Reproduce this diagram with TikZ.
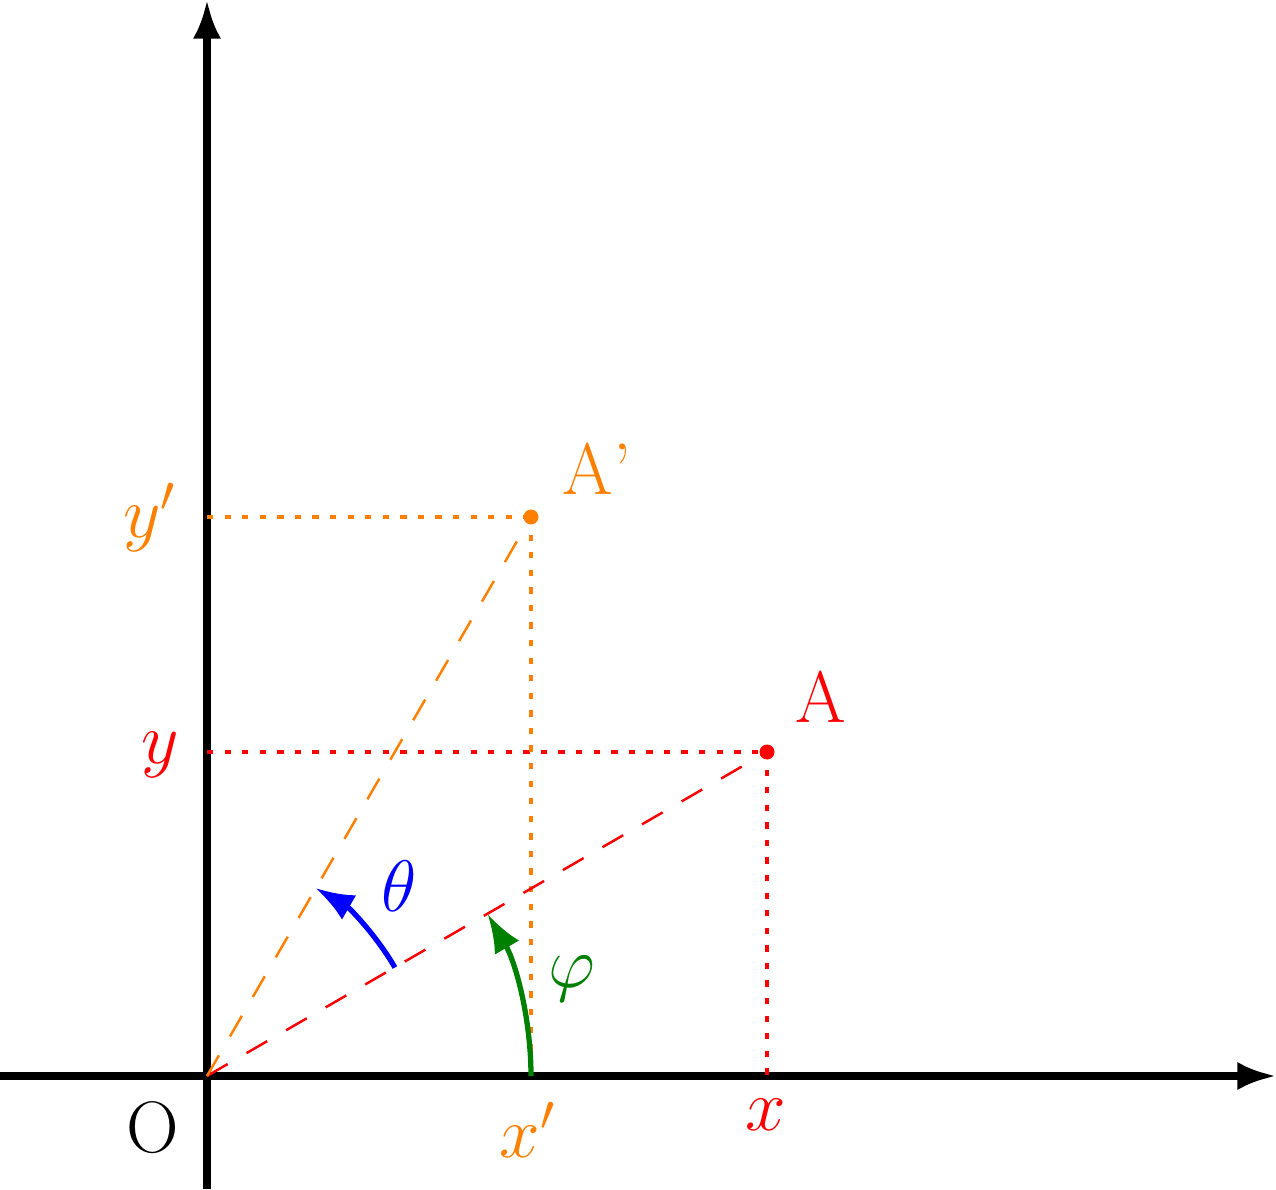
\documentclass[tikz,border=0pt]{standalone}
\usetikzlibrary{arrows.meta}
\definecolor{myorange}{rgb}{1,0.5,0}
\definecolor{mygreen}{rgb}{0,0.5,0}
\begin{document}
\begin{tikzpicture}[
  axis/.style={line width=2pt,-{Latex[length=11pt,width=8pt]}},
  proj/.style={line width=0.9pt,dash pattern=on 1.8pt off 3.2pt},
  ray/.style={line width=0.7pt,dash pattern=on 6.8pt off 6.2pt},
  turn/.style={line width=1.5pt,-{Latex[length=11pt,width=8pt]}},
  lbl/.style={inner sep=0pt,anchor=base,font=\huge},
  dot/.style={circle,fill,inner sep=0pt,minimum size=0.15cm},
]
\useasboundingbox (-2.07,-1.13) rectangle (10.69,10.76);
\coordinate (O) at (0,0);
\coordinate (xl) at (-2.07,0);
\coordinate (xr) at (10.69,0);
\coordinate (yb) at (0,-1.13);
\coordinate (yt) at (0,10.76);
\coordinate (A) at (5.60,3.24);
\coordinate (Ap) at (3.24,5.59);
\coordinate (Ax) at (5.60,0);
\coordinate (Ay) at (0,3.24);
\coordinate (Apx) at (3.24,0);
\coordinate (Apy) at (0,5.59);
\coordinate (B0) at (30:2.17);
% axes
\draw[axis] (xl) -- (xr);
\draw[axis] (yb) -- (yt);
% projections
\draw[proj,red] (Ay) -- (A);
\draw[proj,red] (A) -- (Ax);
\draw[proj,myorange] (Apy) -- (Ap);
\draw[proj,myorange] (Ap) -- (Apx);
% rays
\draw[ray,red] (O) -- (A);
\draw[ray,myorange] (O) -- (Ap);
% points
\node[dot,red] (pA) at (A) {};
\node[dot,myorange] (pAp) at (Ap) {};
% angle arrows
\draw[turn,mygreen] (Apx) arc[start angle=0,end angle=30,radius=3.24];
\draw[turn,blue] (B0) arc[start angle=30,end angle=60,radius=2.17];
% labels
\node[lbl] (lO) at (-0.54,-0.76) {O};
\node[lbl,myorange] (lxp) at (3.21,-0.81) {$x'$};
\node[lbl,red] (lx) at (5.59,-0.54) {$x$};
\node[lbl,red,anchor=base east] (ly) at (-0.27,3.13) {$y$};
\node[lbl,myorange,anchor=base east] (lyp) at (-0.30,5.38) {$y'$};
\node[lbl,red] (lA) at (6.14,3.54) {A};
\node[lbl,myorange] (lAp) at (3.90,5.81) {A'};
\node[lbl,blue] (lth) at (1.92,1.65) {$\theta$};
\node[lbl,mygreen] (lph) at (3.65,0.89) {$\varphi$};
\end{tikzpicture}
\end{document}
